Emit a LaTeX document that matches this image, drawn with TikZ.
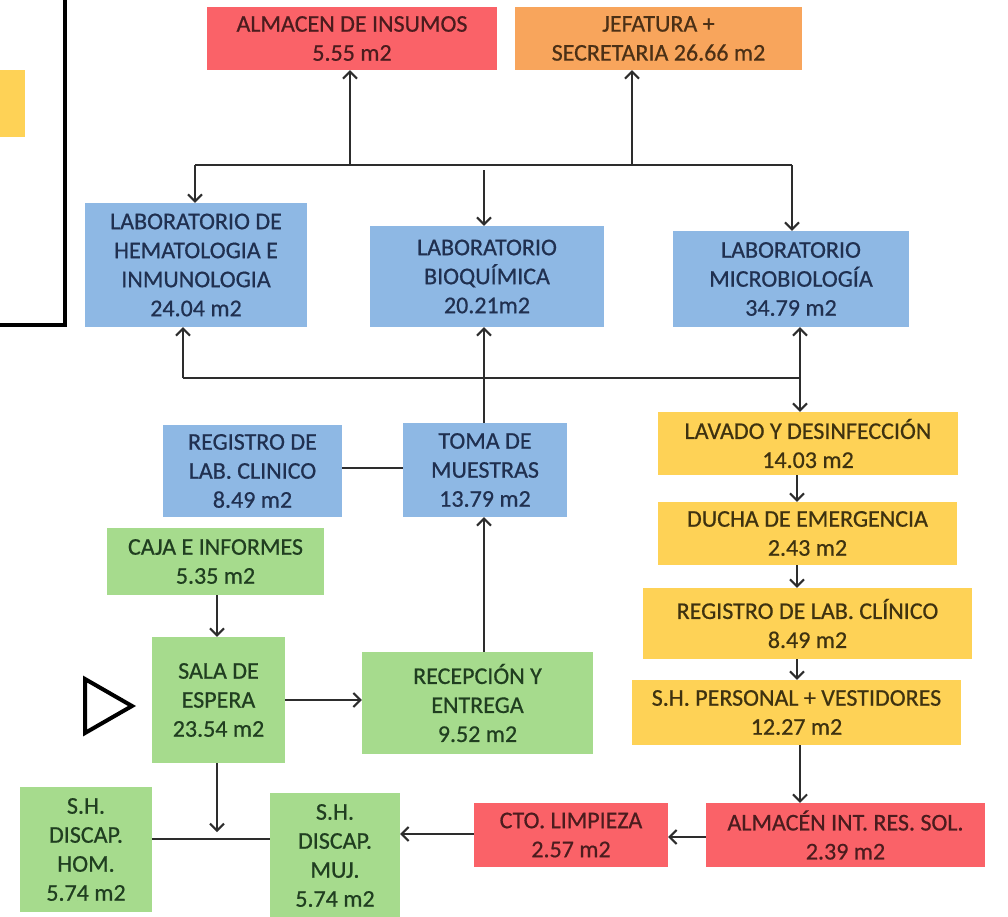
\documentclass[tikz,border=0pt]{standalone}
\usepackage{fontspec}
\setmainfont{Carlito}[FakeBold=0.6]
\usetikzlibrary{arrows.meta,calc}

\definecolor{cRed}{RGB}{250,98,104}
\definecolor{cOrange}{RGB}{248,165,92}
\definecolor{cBlue}{RGB}{142,184,228}
\definecolor{cGreen}{RGB}{166,219,141}
\definecolor{cYellow}{RGB}{254,210,86}
\definecolor{tRed}{RGB}{75,28,30}
\definecolor{tOrange}{RGB}{75,48,22}
\definecolor{tBlue}{RGB}{32,48,80}
\definecolor{tGreen}{RGB}{32,62,32}
\definecolor{tYellow}{RGB}{62,50,16}
\definecolor{lineclr}{RGB}{45,45,45}

\begin{document}
\begin{tikzpicture}[x=1pt,y=-1pt,
  room/.style 2 args={rectangle, inner sep=0pt, minimum width=#1, minimum height=#2,
    align=center, font=\fontsize{24}{29}\selectfont},
  red/.style={fill=cRed, text=tRed},
  orange/.style={fill=cOrange, text=tOrange},
  blue/.style={fill=cBlue, text=tBlue},
  green/.style={fill=cGreen, text=tGreen},
  yellow/.style={fill=cYellow, text=tYellow},
  link/.style={draw=lineclr, line width=2pt},
  arr/.style={link, -{Straight Barb[length=7pt,width=14pt]}},
  dblarr/.style={link, {Straight Barb[length=7pt,width=14pt]}-{Straight Barb[length=7pt,width=14pt]}}]
\useasboundingbox (0,0) rectangle (1008,916);
\fill[white] (0,0) rectangle (1008,916);

% legend frame at the left edge
\fill[cYellow] (-5,70) rectangle (25,137);
\draw[black, line width=4pt] (65,-5) -- (65,325) -- (-5,325);

% upper row
\node[room={290pt}{63pt}, red] (almins) at (352,38.5) {ALMACEN DE INSUMOS\\5.55 m2};
\node[room={287pt}{63pt}, orange] (jef) at (658.5,38.5) {JEFATURA +\\SECRETARIA 26.66 m2};

% laboratories
\node[room={222pt}{124pt}, blue] (hema) at (196,265) {LABORATORIO DE\\HEMATOLOGIA E\\INMUNOLOGIA\\24.04 m2};
\node[room={234pt}{101pt}, blue] (bio) at (487,276.5) {LABORATORIO\\BIOQUÍMICA\\20.21m2};
\node[room={236pt}{96pt}, blue] (micro) at (791,279) {LABORATORIO\\MICROBIOLOGÍA\\34.79 m2};

% sampling
\node[room={179pt}{92pt}, blue] (reg1) at (252.5,471) {REGISTRO DE\\LAB. CLINICO\\8.49 m2};
\node[room={164pt}{94pt}, blue] (toma) at (485,470) {TOMA DE\\MUESTRAS\\13.79 m2};

% public area
\node[room={217pt}{67pt}, green] (caja) at (215.5,561.5) {CAJA E INFORMES\\5.35 m2};
\node[room={133pt}{126pt}, green] (sala) at (218.5,700) {SALA DE\\ESPERA\\23.54 m2};
\node[room={231pt}{102pt}, green] (recep) at (477.5,703) {RECEPCIÓN Y\\ENTREGA\\9.52 m2};
\node[room={132pt}{125pt}, green] (hom) at (86,849.5) {S.H.\\DISCAP.\\HOM.\\5.74 m2};
\node[room={130pt}{125pt}, green] (muj) at (335,855.5) {S.H.\\DISCAP.\\MUJ.\\5.74 m2};

% service chain
\node[room={300pt}{63pt}, yellow] (lav) at (808,443.5) {LAVADO Y DESINFECCIÓN\\14.03 m2};
\node[room={299pt}{63pt}, yellow] (ducha) at (807.5,533.5) {DUCHA DE EMERGENCIA\\2.43 m2};
\node[room={329pt}{71pt}, yellow] (reg2) at (807.5,623.5) {REGISTRO DE LAB. CLÍNICO\\8.49 m2};
\node[room={329pt}{65pt}, yellow] (shp) at (796.5,712.5) {S.H. PERSONAL + VESTIDORES\\12.27 m2};
\node[room={194pt}{64pt}, red] (cto) at (571,835) {CTO. LIMPIEZA\\2.57 m2};
\node[room={279pt}{64pt}, red] (almint) at (845.5,835) {ALMACÉN INT. RES. SOL.\\2.39 m2};

% entrance mark
\draw[black, line width=4pt, line join=miter] (85,679) -- (132,706) -- (85,733) -- cycle;

% upper distribution bus
\coordinate (bus1L) at (195,165);
\coordinate (bus1R) at (792,165);
\coordinate (b1) at (350,165);
\coordinate (b2) at (632,165);
\coordinate (b3) at (484,170);
\draw[link] (bus1L) -- (bus1R);
\draw[arr] (b1) -- (b1 |- almins.south);
\draw[arr] (b2) -- (b2 |- jef.south);
\draw[arr] (bus1L) -- (bus1L |- hema.north);
\draw[arr] (b3) -- (b3 |- bio.north);
\draw[arr] (bus1R) -- (bus1R |- micro.north);

% lower distribution bus
\coordinate (bus2L) at (183,378);
\coordinate (bus2R) at (800,378);
\draw[link] (bus2L) -- (bus2R);
\draw[arr] (bus2L) -- (bus2L |- hema.south);
\draw[arr] (toma.north -| b3) -- (b3 |- bio.south);
\draw[dblarr] (bus2R |- micro.south) -- (bus2R |- lav.north);

% sampling links
\draw[link] (reg1.east |- 0,468) -- (toma.west |- 0,468);
\draw[arr] (recep.north -| b3) -- (b3 |- toma.south);

% public flow
\coordinate (salain) at (217,0);
\draw[arr] (caja.south -| salain) -- (salain |- sala.north);
\draw[arr] (sala.east |- 0,700) -- (recep.west |- 0,700);
\coordinate (join) at (217,832);
\draw[arr] (sala.south -| join) -- (join);
\draw[link] (hom.east |- 0,839) -- (muj.west |- 0,839);

% service flow
\coordinate (chain) at (797,0);
\draw[arr] (lav.south -| chain) -- (chain |- ducha.north);
\draw[arr] (ducha.south -| chain) -- (chain |- reg2.north);
\draw[arr] (reg2.south -| chain) -- (chain |- shp.north);
\draw[arr] (shp.south -| bus2R) -- (bus2R |- almint.north);
\draw[arr] (almint.west |- 0,837) -- (cto.east |- 0,837);
\draw[arr] (cto.west |- 0,834) -- (muj.east |- 0,834);
\end{tikzpicture}
\end{document}
